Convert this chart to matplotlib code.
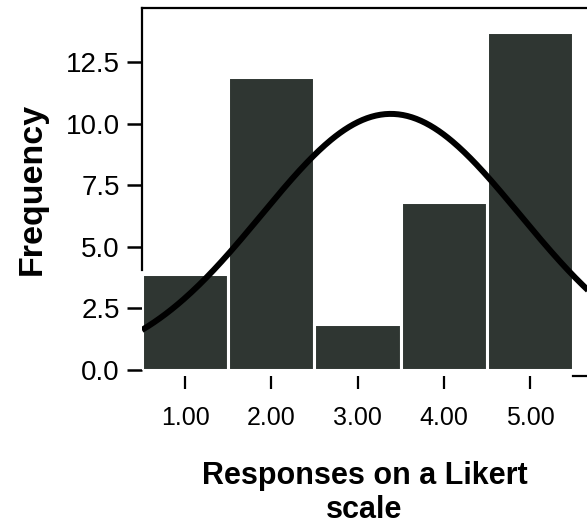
import numpy as np
import matplotlib
matplotlib.use("Agg")
import matplotlib.pyplot as plt

# Histogram of Likert responses
categories = [1.0, 2.0, 3.0, 4.0, 5.0]
frequencies = [3.9, 11.9, 1.85, 6.8, 13.7]
x_tick_labels = ["1.00", "2.00", "3.00", "4.00", "5.00"]
y_ticks = [0.0, 2.5, 5.0, 7.5, 10.0, 12.5]

# Parameters of the overlaid normal curve
curve_n = 39
curve_mean = 3.385
curve_sd = 1.497


def main():
    plt.rcParams["font.family"] = ["Liberation Sans", "DejaVu Sans"]

    fig = plt.figure(figsize=(5.87, 5.24), dpi=100)
    ax = fig.add_axes([0.2419, 0.2939, 0.7581, 0.6908])

    ax.bar(categories, frequencies, width=1.0, color="#2f3632",
           edgecolor="white", linewidth=2.2, zorder=2)

    xs = np.linspace(0.5, 5.7, 300)
    ys = (curve_n / (curve_sd * np.sqrt(2 * np.pi))
          * np.exp(-0.5 * ((xs - curve_mean) / curve_sd) ** 2))
    ax.plot(xs, ys, color="black", linewidth=4.3, zorder=3,
            solid_capstyle="butt")

    ax.set_xlim(0.501, 5.66)
    ax.set_ylim(0, 14.69)

    ax.set_xticks(categories)
    ax.set_xticklabels(x_tick_labels)
    ax.set_yticks(y_ticks)
    ax.set_yticklabels([f"{v:.1f}" for v in y_ticks])

    ax.tick_params(axis="x", direction="out", length=9, width=1.6,
                   pad=13, labelsize=18)
    ax.tick_params(axis="y", direction="out", length=11, width=1.8,
                   pad=5, labelsize=20)

    ax.spines["right"].set_visible(False)
    ax.spines["top"].set_linewidth(1.6)
    ax.spines["left"].set_linewidth(1.6)
    ax.spines["left"].set_bounds(4.05, 14.69)
    ax.spines["bottom"].set_linewidth(1.6)
    ax.spines["bottom"].set_position(("outward", 4))
    ax.spines["bottom"].set_bounds(5.5, 5.66)

    ax.set_ylabel("Frequency", fontsize=24.5, fontweight="bold", labelpad=13)
    ax.set_xlabel("Responses on a Likert\nscale", fontsize=22,
                  fontweight="bold", labelpad=22, linespacing=1.2)

    fig.savefig("out.png", dpi=100)


if __name__ == "__main__":
    main()
